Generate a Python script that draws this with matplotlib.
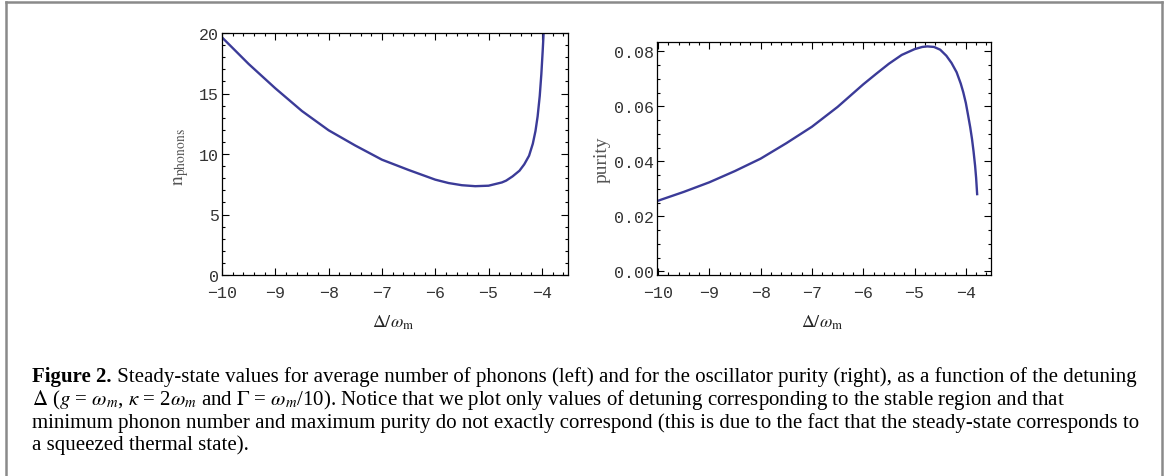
import matplotlib
matplotlib.use("Agg")
import matplotlib.pyplot as plt
from matplotlib.ticker import MultipleLocator, FormatStrFormatter
from matplotlib.lines import Line2D

# values
delta_n = [-10.0, -9.5, -9.0, -8.5, -8.0, -7.5, -7.0, -6.5, -6.0, -5.75,
           -5.5, -5.25, -5.0, -4.75, -4.67, -4.55, -4.42, -4.33, -4.24, -4.17,
           -4.12, -4.08, -4.04, -4.01, -3.985, -3.965]
n_phonons = [19.64, 17.44, 15.43, 13.55, 11.96, 10.70, 9.53, 8.68, 7.88, 7.60,
             7.42, 7.34, 7.38, 7.65, 7.80, 8.15, 8.62, 9.15, 9.86, 10.85,
             11.90, 13.10, 14.80, 16.60, 18.50, 20.20]

delta_p = [-10.0, -9.5, -9.0, -8.5, -8.0, -7.5, -7.0, -6.5, -6.0, -5.75,
           -5.5, -5.25, -5.0, -4.85, -4.75, -4.62, -4.5, -4.38, -4.28, -4.18,
           -4.1, -4.05, -4.0, -3.955, -3.915, -3.88, -3.85, -3.82, -3.80, -3.78]
purity = [0.0257, 0.0289, 0.0324, 0.0365, 0.0410, 0.0466, 0.0526, 0.0598, 0.0680, 0.0718,
          0.0755, 0.0787, 0.0808, 0.0816, 0.0818, 0.0816, 0.0806, 0.0784, 0.0758, 0.0724,
          0.0683, 0.0651, 0.0612, 0.0566, 0.0524, 0.0481, 0.0436, 0.0384, 0.0340, 0.0281]

caption_bold = "Figure 2."
caption_lines = [
    " Steady-state values for average number of phonons (left) and for the oscillator purity (right), as a function of the detuning",
    r"$\Delta$ ($g$ = $\omega_m$, $\kappa$ = 2$\omega_m$ and $\Gamma$ = $\omega_m$/10). Notice that we plot only values of detuning corresponding to the stable region and that",
    "minimum phonon number and maximum purity do not exactly correspond (this is due to the fact that the steady-state corresponds to",
    "a squeezed thermal state).",
]

plt.rcParams['mathtext.fontset'] = 'stix'
W, H = 1165, 477
line_color = '#3b3b98'
tick_family = 'Liberation Mono'
tick_size = 12

fig = plt.figure(figsize=(W / 100, H / 100), dpi=100)

ax1 = fig.add_axes([222 / W, 1 - 276 / H, 346 / W, 242 / H])
ax2 = fig.add_axes([657 / W, 1 - 276 / H, 334 / W, 233 / H])

ax1.plot(delta_n, n_phonons, color=line_color, lw=1.7, solid_joinstyle='round')
ax1.set_xlim(-10, -3.51)
ax1.set_ylim(0, 20)
ax1.yaxis.set_major_locator(MultipleLocator(5))
ax1.yaxis.set_minor_locator(MultipleLocator(1))

ax2.plot(delta_p, purity, color=line_color, lw=1.7, solid_joinstyle='round')
ax2.set_xlim(-10.02, -3.51)
ax2.set_ylim(-0.0013, 0.0834)
ax2.yaxis.set_major_locator(MultipleLocator(0.02))
ax2.yaxis.set_minor_locator(MultipleLocator(0.005))
ax2.yaxis.set_major_formatter(FormatStrFormatter('%.2f'))

for ax in (ax1, ax2):
    ax.xaxis.set_major_locator(MultipleLocator(1))
    ax.xaxis.set_minor_locator(MultipleLocator(0.2))
    ax.tick_params(which='both', direction='in', top=True, right=True, width=0.8)
    ax.tick_params(which='major', length=5)
    ax.tick_params(which='minor', length=2.5)
    ax.tick_params(axis='x', pad=7)
    ax.tick_params(axis='y', pad=2)
    for sp in ax.spines.values():
        sp.set_linewidth(0.9)
    for lab in ax.get_xticklabels() + ax.get_yticklabels():
        lab.set_fontfamily(tick_family)
        lab.set_fontsize(tick_size)
        lab.set_color('#333333')
    ax.set_xlabel(r"$\Delta/\omega_{\mathrm{m}}$", fontsize=13, color='#222222')

ax1.set_ylabel(r"$\mathrm{n}_{\mathrm{phonons}}$", fontsize=14, color='#555555')
ax2.set_ylabel("purity", fontsize=14, color='#555555', family='Liberation Serif')
ax1.yaxis.set_label_coords(-0.116, 0.49)
ax2.yaxis.set_label_coords(-0.165, 0.50)
ax1.xaxis.set_label_coords(0.494, -0.194)
ax2.xaxis.set_label_coords(0.494, -0.202)
for ax in (ax1, ax2):
    ax.xaxis.label.set_va('center')
    ax.yaxis.label.set_va('center')

# grey frame around figure + caption
frame_kw = dict(color='#8a8a8a', lw=1.8, transform=fig.transFigure)
fig.add_artist(Line2D([6 / W, 6 / W], [0, 1 - 3 / H], **frame_kw))
fig.add_artist(Line2D([1161.5 / W, 1161.5 / W], [0, 1 - 3 / H], **frame_kw))
fig.add_artist(Line2D([6 / W, 1161.5 / W], [1 - 3 / H, 1 - 3 / H], **frame_kw))

cap_x = 32 / W
cap_y = [377, 400, 423, 445]
cap_size = 15
renderer = fig.canvas.get_renderer()
tb = fig.text(cap_x, 1 - cap_y[0] / H, caption_bold, family='Liberation Serif',
              weight='bold', fontsize=cap_size, va='center')
bw = tb.get_window_extent(renderer).width
fig.text(cap_x + bw / W, 1 - cap_y[0] / H, caption_lines[0], family='Liberation Serif',
         fontsize=cap_size, va='center')
for txt, yy in zip(caption_lines[1:], cap_y[1:]):
    fig.text(cap_x, 1 - yy / H, txt, family='Liberation Serif', fontsize=cap_size, va='center')

fig.savefig("out.png", dpi=100)
